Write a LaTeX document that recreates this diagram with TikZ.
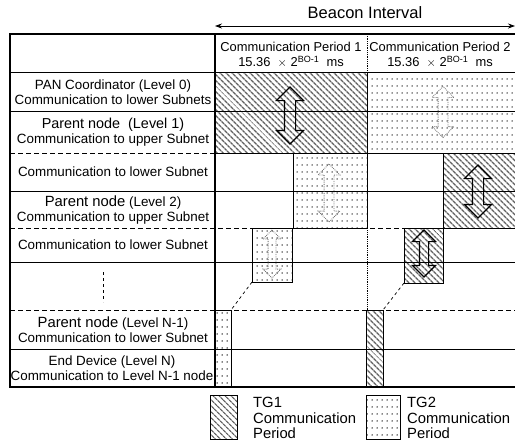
\documentclass[tikz,border=0pt]{standalone}
\usepackage{fontspec}
\setmainfont{Liberation Sans}
\usetikzlibrary{arrows.meta, patterns.meta, shapes.arrows}

\tikzdeclarepattern{
  name=tgdots,
  type=uncolored,
  bottom left={(0pt,0pt)},
  top right={(5pt,6.5pt)},
  tile size={(5pt,6.5pt)},
  code={\fill (2.5pt,3.25pt) circle (0.85pt);}
}

\begin{document}
\begin{tikzpicture}[x=1pt, y=-1pt, >={Stealth[length=7pt, width=5pt]},
      txt/.style={font=\fontsize{13.4}{15}\selectfont, align=center, inner sep=0pt},
      hdr/.style={font=\fontsize{12.9}{14.5}\selectfont, align=center, inner sep=0pt},
      lgd/.style={font=\fontsize{14.8}{15.5}\selectfont, align=left, inner sep=0pt, anchor=west},
      tgone/.style={draw, line width=0.8pt, inner sep=0pt, outer sep=0pt, anchor=north west,
                    pattern={Lines[angle=-45, distance=4pt, line width=1.4pt]}, pattern color=black!62},
      tgtwo/.style={draw, line width=0.8pt, inner sep=0pt, outer sep=0pt, anchor=north west,
                    pattern=tgdots, pattern color=black!85},
      darr/.style={double arrow, draw, line width=1.1pt, rotate=90, inner sep=5pt,
                   double arrow head extend=8pt, double arrow tip angle=90, minimum height=#1},
      farr/.style={double arrow, draw=black!55, densely dotted, line width=0.8pt, rotate=90, inner sep=4.5pt,
                   double arrow head extend=6pt, double arrow tip angle=90, minimum height=#1},
      rowline/.style={line width=0.9pt},
      rowdash/.style={line width=0.9pt, dash pattern=on 5pt off 3pt}]

    \useasboundingbox (0,0) rectangle (515,445);

    % ---- Layout ----
    \def\xL{10}     % table left
    \def\xA{215}    % label column right
    \def\xM{367}    % period divider
    \def\xR{515}    % table runs off the right edge
    \def\yT{34}     % table top
    \def\yB{387}    % table bottom

    % ---- Beacon interval ----
    \coordinate (bil) at (\xA, 26);
    \coordinate (bir) at (515, 26);
    \draw[<->, line width=0.8pt] (bil) -- (bir);
    \node[font=\fontsize{16.5}{18}\selectfont, inner sep=0pt] (bi) at (365, 13) {Beacon Interval};

    % ---- Period divider (behind blocks) ----
    \draw[densely dotted, line width=0.8pt] (\xM, \yT) -- (\xM, 310);

    % ---- Period blocks ----
    \node[tgone, minimum width=152pt, minimum height=81pt] (b1) at (\xA, 72)  {};
    \node[tgtwo, minimum width=149pt, minimum height=81pt] (b2) at (\xM, 72)  {};
    \node[tgtwo, minimum width=74pt,  minimum height=75pt] (b3) at (293, 153) {};
    \node[tgone, minimum width=73pt,  minimum height=75pt] (b4) at (443, 153) {};
    \node[tgtwo, minimum width=40pt,  minimum height=54pt] (b5) at (252, 228) {};
    \node[tgone, minimum width=39pt,  minimum height=55pt] (b6) at (404, 228) {};
    \node[tgtwo, minimum width=16pt,  minimum height=77pt] (t2) at (\xA, 310) {};
    \node[tgone, minimum width=17pt,  minimum height=77pt] (t1) at (366, 310) {};

    % ---- Table grid ----
    \draw[line width=1.1pt] (\xR, \yT) -- (\xL, \yT) -- (\xL, \yB) -- (\xR, \yB);
    \draw[line width=1.1pt] (\xA, \yT) -- (\xA, \yB);
    \foreach \y in {72, 111, 191, 262, 349}
        \draw[rowline] (\xL, \y) -- (\xR, \y);
    \foreach \y in {153, 228, 310}
        \draw[rowdash] (\xL, \y) -- (\xR, \y);

    % ---- Transfer arrows ----
    \node[darr=57pt] (a1) at (290, 115.5) {};
    \node[farr=51pt] (a2) at (443, 112)   {};
    \node[farr=58pt] (a3) at (329, 193)   {};
    \node[darr=53pt] (a4) at (478, 191.5) {};
    \node[farr=48pt, inner sep=3.5pt, double arrow head extend=5pt] (a5) at (272, 254) {};
    \node[darr=47pt, inner sep=4pt, double arrow head extend=7pt] (a6) at (424, 253.5) {};

    % ---- Links down to level N-1 ----
    \draw[dashed, line width=0.7pt] (b5.south west) -- (t2.north east);
    \draw[dashed, line width=0.7pt] (b6.south west) -- (t1.north east);

    % ---- Header ----
    \node[hdr] (h1) at (291, 55) {Communication Period 1\\15.36~~$\times$ 2\textsuperscript{BO-1}~~ms};
    \node[hdr] (h2) at (440, 55) {Communication Period 2\\15.36~~$\times$ 2\textsuperscript{BO-1}~~ms};

    % ---- Row labels ----
    \node[txt] (r1) at (113, 92)  {PAN Coordinator (Level 0)\\Communication to lower Subnets};
    \node[txt] (r2) at (113, 132) {{\fontsize{14.4}{15}\selectfont Parent node~ (Level 1)}\\Communication to upper Subnet};
    \node[txt] (r3) at (113, 172) {Communication to lower Subnet};
    \node[txt] (r4) at (113, 210) {{\fontsize{14.8}{15}\selectfont Parent node} (Level 2)\\Communication to upper Subnet};
    \node[txt] (r5) at (113, 245) {Communication to lower Subnet};
    \coordinate (vt) at (103, 272);
    \coordinate (vb) at (103, 302);
    \draw[dashed, line width=0.9pt] (vt) -- (vb);
    \node[txt] (r7) at (113, 330) {{\fontsize{14.8}{15}\selectfont Parent node} (Level N-1)\\Communication to lower Subnet};
    \node[txt] (r8) at (112, 368) {End Device (Level N)\\Communication to Level N-1 node};

    % ---- Legend ----
    \node[tgone, minimum width=27pt, minimum height=44pt] (g1) at (210, 395) {};
    \node[lgd] (g1t) at (253, 418) {TG1\\Communication\\Period};
    \node[tgtwo, minimum width=34pt, minimum height=44pt] (g2) at (366, 395) {};
    \node[lgd] (g2t) at (407, 418) {TG2\\Communication\\Period};

\end{tikzpicture}
\end{document}
